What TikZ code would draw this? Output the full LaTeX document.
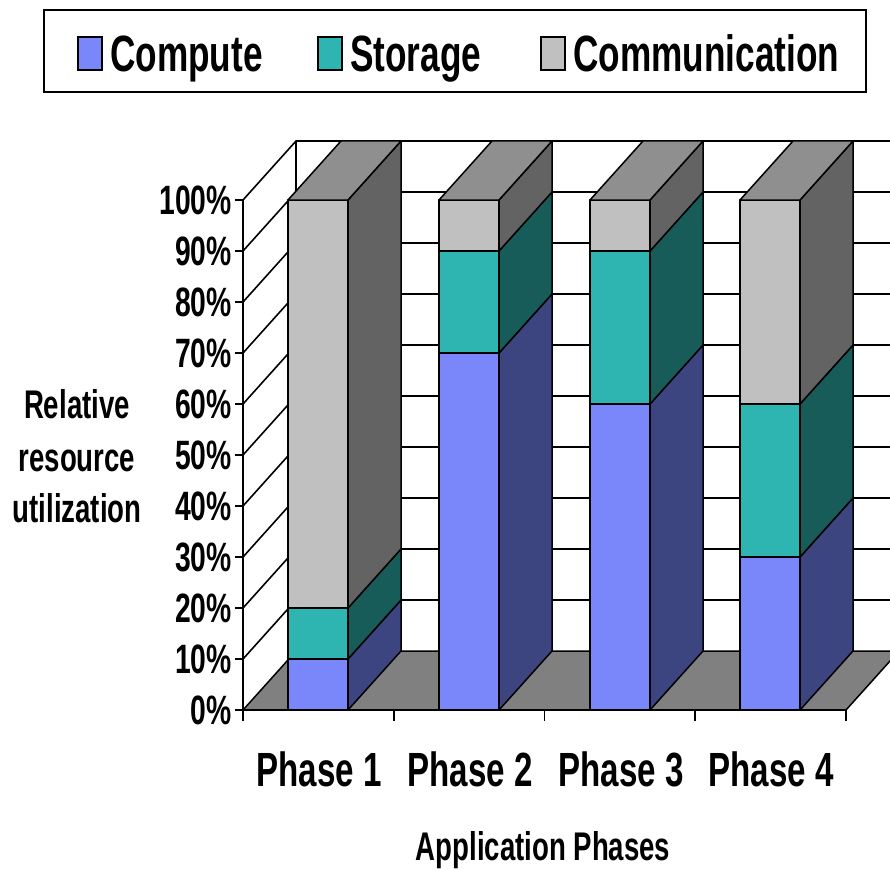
\documentclass[tikz,border=0pt]{standalone}
\usepackage{fontspec}
\setmainfont{Liberation Sans}[FakeStretch=0.69]
\definecolor{compF}{RGB}{122,135,250}
\definecolor{compS}{RGB}{60,69,128}
\definecolor{storF}{RGB}{46,181,178}
\definecolor{storS}{RGB}{24,92,89}
\definecolor{commF}{RGB}{192,192,192}
\definecolor{commS}{RGB}{99,99,99}
\definecolor{topC}{RGB}{143,143,143}
\definecolor{floorC}{RGB}{128,128,128}
\tikzset{
  edge/.style={draw=black,line width=1.5pt,line join=round},
  gridline/.style={draw=black,line width=1.6pt},
  axisline/.style={draw=black,line width=2.2pt},
  ticklbl/.style={font=\fontsize{41}{41}\selectfont\bfseries,anchor=base east,inner sep=0pt},
  phaselbl/.style={font=\fontsize{48}{48}\selectfont\bfseries,anchor=base,inner sep=0pt},
  titlelbl/.style={font=\fontsize{40}{40}\selectfont\bfseries,anchor=base,inner sep=0pt},
  legendlbl/.style={font=\fontsize{51}{51}\selectfont\bfseries,anchor=base west,inner sep=0pt},
  swatch/.style={draw=black,line width=1.4pt},
}
% one stacked segment: left x, lower level, upper level (tens of percent), front and side colours
\newcommand\barseg[5]{%
  \pgfmathsetmacro\yb{710-51*#2}%
  \pgfmathsetmacro\yt{710-51*#3}%
  \filldraw[edge,fill=#4] (#1,\yb) rectangle ({#1+60},\yt);
  \filldraw[edge,fill=#5] ({#1+60},\yb) -- ({#1+113},{\yb-59}) -- ({#1+113},{\yt-59}) -- ({#1+60},\yt) -- cycle;
}
% lid of a bar at the given level
\newcommand\bartop[2]{%
  \pgfmathsetmacro\yt{710-51*#2}%
  \filldraw[edge,fill=topC] (#1,\yt) -- ({#1+53},{\yt-59}) -- ({#1+113},{\yt-59}) -- ({#1+60},\yt) -- cycle;
}
\begin{document}
\begin{tikzpicture}[x=1pt,y=-1pt]
\useasboundingbox (0,0) rectangle (890,869);
\clip (0,0) rectangle (890,869);

% side wall and back wall
\fill[white] (243,710) -- (296,651) -- (296,141) -- (243,200) -- cycle;
\foreach \k in {1,...,10}
  \draw[gridline] (243,{710-51*\k}) -- (296,{651-51*\k}) -- (900,{651-51*\k});
\draw[gridline] (296,651) -- (296,141);

% floor
\filldraw[edge,fill=floorC] (243,710) -- (846,710) -- (899,651) -- (296,651) -- cycle;

% Phase 1
\barseg{288}{0}{1}{compF}{compS}
\barseg{288}{1}{2}{storF}{storS}
\barseg{288}{2}{10}{commF}{commS}
\bartop{288}{10}
% Phase 2
\barseg{439}{0}{7}{compF}{compS}
\barseg{439}{7}{9}{storF}{storS}
\barseg{439}{9}{10}{commF}{commS}
\bartop{439}{10}
% Phase 3
\barseg{590}{0}{6}{compF}{compS}
\barseg{590}{6}{9}{storF}{storS}
\barseg{590}{9}{10}{commF}{commS}
\bartop{590}{10}
% Phase 4
\barseg{740}{0}{3}{compF}{compS}
\barseg{740}{3}{6}{storF}{storS}
\barseg{740}{6}{10}{commF}{commS}
\bartop{740}{10}

% axes and ticks
\draw[axisline] (243,200) -- (243,710) -- (846,710);
\foreach \k in {0,...,10}
  \draw[gridline] (235,{710-51*\k}) -- (243,{710-51*\k});
\foreach \i in {0,...,4}
  \draw[gridline] ({243+150.75*\i},710) -- ({243+150.75*\i},721);

% value labels
\foreach \k in {0,...,10}
  \node[ticklbl] (v\k) at (232,{724.5-51*\k}) {\pgfmathparse{int(10*\k)}\pgfmathresult\%};

% category labels
\node[phaselbl] (p1) at (319,786) {Phase 1};
\node[phaselbl] (p2) at (470,786) {Phase 2};
\node[phaselbl] (p3) at (621,786) {Phase 3};
\node[phaselbl] (p4) at (771,786) {Phase 4};

% axis titles
\node[titlelbl] (yt1) at (77,418) {Relative};
\node[titlelbl] (yt2) at (77,471) {resource};
\node[titlelbl] (yt3) at (77,522) {utilization};
\node[titlelbl] (xt) at (543,860) {Application Phases};

% legend
\draw[line width=1.6pt] (44,10) rectangle (866,92);
\filldraw[swatch,fill=compF] (78,37) rectangle (102,70);
\node[legendlbl] (lc) at (110,72) {Compute};
\filldraw[swatch,fill=storF] (318,37) rectangle (342,70);
\node[legendlbl] (ls) at (350,72) {Storage};
\filldraw[swatch,fill=commF] (541,37) rectangle (565,70);
\node[legendlbl] (lm) at (573,72) {Communication};
\end{tikzpicture}
\end{document}
